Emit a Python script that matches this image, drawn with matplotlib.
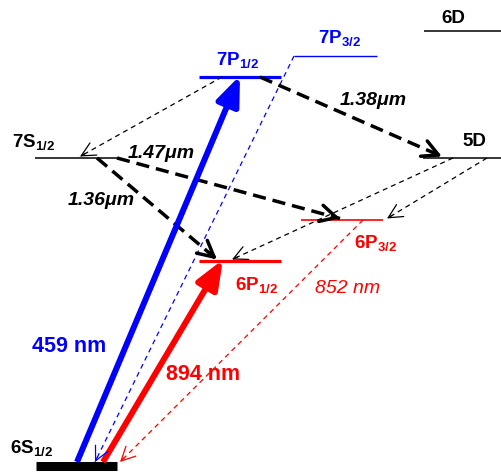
import matplotlib.pyplot as plt

plt.rcParams['font.family'] = ['Liberation Sans', 'DejaVu Sans']
plt.rcParams['mathtext.fontset'] = 'custom'
plt.rcParams['mathtext.rm'] = 'Liberation Sans'
plt.rcParams['mathtext.bf'] = 'Liberation Sans:bold'
plt.rcParams['mathtext.it'] = 'Liberation Sans:italic'
plt.rcParams['lines.scale_dashes'] = False

# energy levels, in picture units (y grows downwards)
level_names = ['6S', '6P12', '6P32', '7S', '5D', '7P12', '7P32', '6D']
level_x0 = [36, 199, 301, 35, 423, 199, 294, 424]
level_x1 = [117, 281, 383, 117, 502, 281, 377, 502]
level_y = [466, 261, 220, 158, 158, 77, 56, 31]
level_color = ['black', 'red', 'red', 'black', 'black', 'blue', 'blue', 'black']
level_lw = [6.5, 2.3, 1.2, 1.1, 1.1, 2.3, 1.0, 1.1]

# transitions: from level, to level, x where they leave and arrive
trans_from = ['6S', '6S', '7P32', '6P32', '7P12', '7S', '7S', '7P12', '5D', '5D']
trans_to = ['7P12', '6P12', '6S', '6S', '5D', '6P32', '6P12', '7S', '6P12', '6P32']
trans_x0 = [77, 103, 294, 363, 260, 117, 97, 222, 453, 487]
trans_x1 = [240, 223, 95, 120, 442, 340, 217, 80, 232, 387]
trans_kind = ['pump', 'pump', 'thin', 'thin', 'thick', 'thick', 'thick', 'thin', 'thin', 'thin']
trans_color = ['blue', 'red', 'blue', 'red', 'black', 'black', 'black', 'black', 'black', 'black']

# text labels
lab_text = [r'$\mathbf{6S}_{\mathbf{1/2}}$', r'$\mathbf{6P}_{\mathbf{1/2}}$', r'$\mathbf{6P}_{\mathbf{3/2}}$',
            r'$\mathbf{7S}_{\mathbf{1/2}}$', '5D', r'$\mathbf{7P}_{\mathbf{1/2}}$',
            r'$\mathbf{7P}_{\mathbf{3/2}}$', '6D',
            '1.38μm', '1.47μm', '1.36μm', '459 nm', '894 nm', '852 nm']
lab_x = [10, 235, 354, 12, 462, 216, 318, 441, 340, 128, 68, 32, 166, 315]
lab_y = [453, 290, 248, 147, 146, 65, 43, 23, 105, 158, 205, 352, 380, 293]
lab_color = ['black', 'red', 'red', 'black', 'black', 'blue', 'blue', 'black',
             'black', 'black', 'black', 'blue', 'red', 'red']
lab_size = [13.5] * 8 + [14, 14, 14, 15.5, 15.5, 14]
lab_style = ['normal'] * 8 + ['italic'] * 3 + ['normal', 'normal', 'italic']
lab_weight = ['bold'] * 13 + ['normal']

fig = plt.figure(figsize=(5.02, 4.76), dpi=100)
ax = fig.add_axes([0, 0, 1, 1])
ax.set_xlim(0, 502)
ax.set_ylim(476, 0)
ax.axis('off')

lev = {}
for n, x0, x1, y, c, lw in zip(level_names, level_x0, level_x1, level_y, level_color, level_lw):
    ax.plot([x0, x1], [y, y], color=c, lw=lw, solid_capstyle='butt')
    lev[n] = y

# where arrows touch a level (top edge of the line)
touch = {'6S': 462}

for a, b, x0, x1, kind, c in zip(trans_from, trans_to, trans_x0, trans_x1, trans_kind, trans_color):
    y0 = touch.get(a, lev[a])
    y1 = touch.get(b, lev[b] - 1.5)
    if kind == 'pump':
        ax.annotate('', xy=(x1, y1), xytext=(x0, y0),
                    arrowprops=dict(arrowstyle='-|>,head_length=1.75,head_width=0.7',
                                    mutation_scale=10, lw=4.3, color=c,
                                    shrinkA=0, shrinkB=0, capstyle='butt'))
        continue
    if kind == 'thick':
        lw, dash, hl, hw = 2.5, [9.5, 5], 1.15, 0.6
    else:
        lw, dash, hl, hw = 0.9, [3.6, 2.9], 1.0, 0.5
    ax.plot([x0, x1], [y0, y1], color=c, lw=lw, dashes=dash, solid_capstyle='butt')
    # solid open head at the arrival end
    dx, dy = x1 - x0, y1 - y0
    d = (dx ** 2 + dy ** 2) ** 0.5
    ax.annotate('', xy=(x1, y1), xytext=(x1 - dx / d * 6, y1 - dy / d * 6),
                arrowprops=dict(arrowstyle='->,head_length=%g,head_width=%g' % (hl, hw),
                                mutation_scale=10, lw=lw, color=c, shrinkA=0, shrinkB=0))

for t, x, y, c, s, st, w in zip(lab_text, lab_x, lab_y, lab_color, lab_size, lab_style, lab_weight):
    ax.text(x, y, t, color=c, fontsize=s, fontstyle=st, fontweight=w,
            ha='left', va='baseline')

fig.savefig('out.png', dpi=100)
